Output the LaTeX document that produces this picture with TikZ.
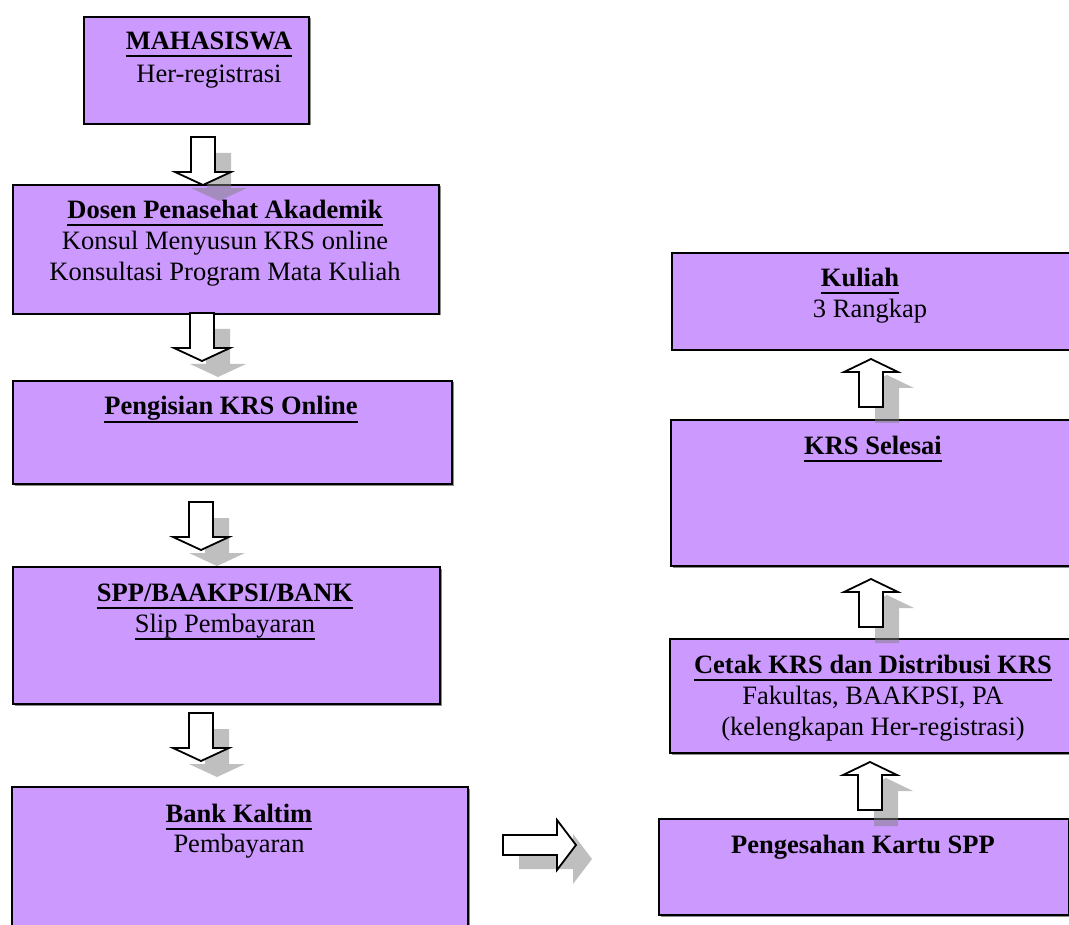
\documentclass[tikz,border=0pt]{standalone}
\usepackage{fontspec}
\setmainfont{Liberation Serif}
\usetikzlibrary{calc,shadows}
\definecolor{boxfill}{HTML}{CC99FF}
% underline with a fixed offset below the baseline
\newcommand\uln[1]{\sbox0{#1}\rlap{\rule[-7.5pt]{\wd0}{2pt}}\usebox0}
\tikzset{
  box/.style={draw=black, line width=2pt, fill=boxfill, rectangle, inner sep=0pt,
    anchor=north west,
    general shadow={shadow xshift=1.5pt, shadow yshift=-1.5pt, fill=black!45}},
  txt/.style={anchor=base, inner sep=0pt, font=\fontsize{26.5}{31}\selectfont},
  arrowline/.style={draw=black, fill=white, line width=1.8pt, line join=miter},
  arrowshade/.style={fill=black!50, fill opacity=0.5, draw=none},
  pics/dnarrow/.style={code={
    \path[arrowshade, shift={(16,16)}] (-12,0) -- (12,0) -- (12,35) -- (28,35)
      -- (0,48) -- (-28,35) -- (-12,35) -- cycle;
    \path[arrowline] (-12,0) -- (12,0) -- (12,35) -- (28,35)
      -- (0,48) -- (-28,35) -- (-12,35) -- cycle;
  }},
  pics/uparrow/.style={code={
    \path[arrowshade, shift={(16,16)}] (0,0) -- (27,13) -- (12,13) -- (12,48)
      -- (-12,48) -- (-12,13) -- (-27,13) -- cycle;
    \path[arrowline] (0,0) -- (27,13) -- (12,13) -- (12,48)
      -- (-12,48) -- (-12,13) -- (-27,13) -- cycle;
  }},
  pics/rtarrow/.style={code={
    \path[arrowshade, shift={(16,14)}] (0,-10) -- (54,-10) -- (54,-25) -- (73,0)
      -- (54,25) -- (54,10) -- (0,10) -- cycle;
    \path[arrowline] (0,-10) -- (54,-10) -- (54,-25) -- (73,0)
      -- (54,25) -- (54,10) -- (0,10) -- cycle;
  }},
}
\begin{document}
\begin{tikzpicture}[x=1pt, y=-1pt]
\useasboundingbox (0,0) rectangle (1069,925);
\fill[white] (0,0) rectangle (1069,925);

% left column
\node[box, minimum width=225pt, minimum height=107pt] (mhs) at (83,16) {};
\node[box, minimum width=426pt, minimum height=129pt] (dosen) at (12,184) {};
\node[box, minimum width=439pt, minimum height=103pt] (isi) at (12,380) {};
\node[box, minimum width=427pt, minimum height=137pt] (spp) at (12,566) {};
\node[box, minimum width=456pt, minimum height=160pt] (bank) at (11,786) {};

% right column
\node[box, minimum width=420pt, minimum height=97pt] (kuliah) at (671,252) {};
\node[box, minimum width=420pt, minimum height=146pt] (selesai) at (670,419) {};
\node[box, minimum width=420pt, minimum height=114pt] (cetak) at (669,638) {};
\node[box, minimum width=410pt, minimum height=96pt] (sah) at (658,818) {};

% labels
\node[txt] (mhs1) at (209,50) {\uln{\textbf{MAHASISWA}}};
\node[txt] (mhs2) at (209,83) {Her-registrasi};
\node[txt] (dosen1) at (225,219) {\uln{\textbf{Dosen Penasehat Akademik}}};
\node[txt] (dosen2) at (225,250) {Konsul Menyusun KRS online};
\node[txt] (dosen3) at (225,281) {Konsultasi Program Mata Kuliah};
\node[txt] (isi1) at (231,415) {\uln{\textbf{Pengisian KRS Online}}};
\node[txt] (spp1) at (225,601) {\uln{\textbf{SPP/BAAKPSI/BANK}}};
\node[txt] (spp2) at (225,632) {\uln{Slip Pembayaran}};
\node[txt] (bank1) at (239,822) {\uln{\textbf{Bank Kaltim}}};
\node[txt] (bank2) at (239,852) {Pembayaran};
\node[txt] (kuliah1) at (860,287) {\uln{\textbf{Kuliah}}};
\node[txt] (kuliah2) at (870,318) {3 Rangkap};
\node[txt] (selesai1) at (873,454) {\uln{\textbf{KRS Selesai}}};
\node[txt] (cetak1) at (873,673) {\uln{\textbf{Cetak KRS dan Distribusi KRS}}};
\node[txt] (cetak2) at (873,704) {Fakultas, BAAKPSI, PA};
\node[txt] (cetak3) at (873,735) {(kelengkapan Her-registrasi)};
\node[txt] (sah1) at (863,853) {\textbf{Pengesahan Kartu SPP}};

% block arrows between the steps
\coordinate (a1) at (203,137);
\coordinate (a2) at (202,313);
\coordinate (a3) at (201,502);
\coordinate (a4) at (201,713);
\coordinate (a5) at (503,845);
\coordinate (a6) at (870,762);
\coordinate (a7) at (871,579);
\coordinate (a8) at (871,359);
\pic at (a1) {dnarrow};
\pic at (a2) {dnarrow};
\pic at (a3) {dnarrow};
\pic at (a4) {dnarrow};
\pic at (a5) {rtarrow};
\pic at (a6) {uparrow};
\pic at (a7) {uparrow};
\pic at (a8) {uparrow};
\end{tikzpicture}
\end{document}
